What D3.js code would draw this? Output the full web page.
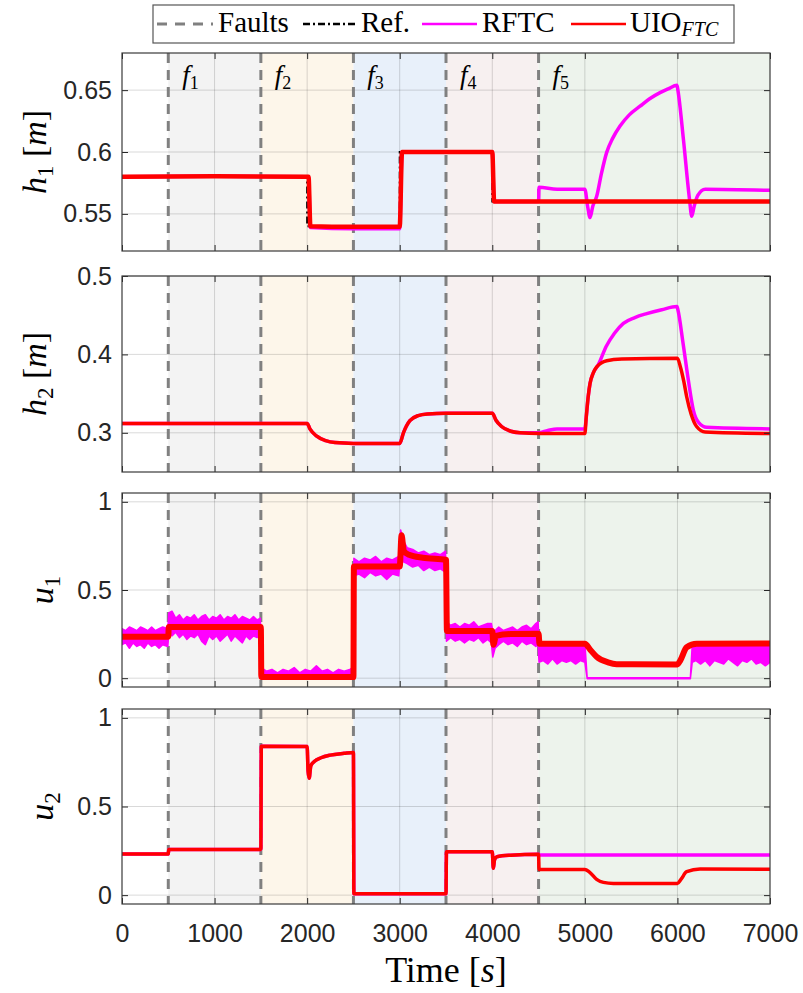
<!DOCTYPE html>
<html>
<head>
<meta charset="utf-8">
<script src="https://cdn.jsdelivr.net/npm/d3@7"></script>
<style>
  body { margin: 0; background: #fff; }
  text { font-family: "Liberation Sans", Arial, sans-serif; }
  .serif { font-family: "Liberation Serif", "Times New Roman", serif; }
</style>
</head>
<body>
<svg width="803" height="993"></svg>
<script>
// fault instants and shaded fault zones
const faultTimes = [500, 1500, 2500, 3500, 4500];
const faultNames = ["1", "2", "3", "4", "5"];
const zoneStart = [500, 1500, 2500, 3500, 4500];
const zoneEnd = [1500, 2500, 3500, 4500, 7000];
const xTicks = [0, 1000, 2000, 3000, 4000, 5000, 6000, 7000];

// h1 [m]
const h1Ref = [[0,0.58],[2000,0.58],[2000,0.54],[3000,0.54],[3000,0.60],[4000,0.60],[4000,0.56],[7000,0.56]];
const h1Uio = [[0,0.58],[1000,0.5805],[2015,0.58],[2035,0.54],[2500,0.5395],[3000,0.5395],[3025,0.60],[4000,0.60],[4020,0.56],[7000,0.56]];
const h1Rftc = [[0,0.58],[1000,0.5805],[2015,0.58],[2035,0.539],[2500,0.538],[3000,0.538],[3025,0.60],[4000,0.60],[4020,0.56],[4500,0.56],
  [4505,0.5715],[4700,0.570],[5000,0.570],[5030,0.556],[5056,0.547],[5085,0.556],[5127,0.564],[5180,0.583],[5235,0.5995],[5300,0.611],
  [5380,0.621],[5480,0.630],[5596,0.637],[5700,0.643],[5812,0.648],[5900,0.651],[5995,0.654],[6005,0.650],[6065,0.61],[6130,0.562],
  [6155,0.548],[6180,0.556],[6220,0.565],[6300,0.570],[7000,0.569]];

// h2 [m]
const h2Uio = [[0,0.312],[2000,0.312],[2030,0.305],[2100,0.296],[2200,0.290],[2300,0.2875],[2500,0.2865],[3000,0.2865],[3040,0.300],
  [3110,0.3155],[3200,0.322],[3300,0.324],[3500,0.325],[4000,0.325],[4040,0.316],[4100,0.308],[4200,0.302],[4300,0.300],[4500,0.299],
  [5000,0.299],[5015,0.320],[5036,0.346],[5056,0.363],[5090,0.376],[5128,0.384],[5236,0.392],[5400,0.394],[6000,0.395],[6030,0.385],
  [6070,0.365],[6100,0.346],[6150,0.323],[6207,0.308],[6300,0.301],[7000,0.299]];
const h2Rftc = [[0,0.312],[2000,0.312],[2030,0.305],[2100,0.296],[2200,0.290],[2300,0.2875],[2500,0.2865],[3000,0.2865],[3040,0.300],
  [3110,0.3155],[3200,0.322],[3300,0.324],[3500,0.325],[4000,0.325],[4040,0.316],[4100,0.308],[4200,0.302],[4300,0.300],[4500,0.300],
  [4600,0.303],[4700,0.305],[5000,0.305],[5015,0.320],[5036,0.346],[5056,0.363],[5090,0.376],[5146,0.387],[5230,0.410],[5320,0.427],
  [5416,0.4396],[5540,0.447],[5668,0.452],[5830,0.457],[5995,0.461],[6005,0.457],[6060,0.415],[6118,0.367],[6172,0.329],[6230,0.313],
  [6316,0.307],[7000,0.305]];

// u1 : UIO centre line and RFTC noise envelope [t, low, high]
const u1Uio = [[0,0.235],[500,0.235],[505,0.29],[1500,0.29],[1505,0.006],[2500,0.006],[2505,0.633],[3000,0.633],[3020,0.81],[3045,0.72],
  [3100,0.70],[3250,0.683],[3500,0.672],[3510,0.268],[4000,0.268],[4012,0.19],[4040,0.24],[4200,0.25],[4500,0.252],[4510,0.195],
  [5000,0.195],[5060,0.16],[5127,0.122],[5250,0.09],[5343,0.079],[6000,0.078],[6030,0.10],[6100,0.175],[6208,0.195],[7000,0.197]];
const u1RftcBand = [
  [0,.19,.28],[40,.2,.27],[80,.17,.29],[120,.2,.28],[160,.18,.27],[200,.19,.29],[240,.17,.28],[280,.2,.27],[320,.18,.29],[360,.19,.27],
  [400,.17,.28],[440,.19,.29],[495,.18,.28],
  [505,.25,.37],[540,.24,.38],[580,.26,.34],[620,.23,.36],[660,.25,.33],[700,.22,.35],[740,.24,.34],[780,.23,.36],[820,.25,.33],
  [860,.21,.35],[900,.19,.36],[940,.24,.33],[980,.22,.35],[1020,.24,.34],[1060,.21,.36],[1100,.23,.33],[1140,.25,.35],[1180,.21,.34],
  [1220,.24,.36],[1260,.22,.33],[1300,.2,.35],[1340,.24,.34],[1380,.22,.33],[1420,.24,.35],[1460,.23,.33],[1495,.24,.34],
  [1505,0,.06],[1560,0,.04],[1620,0,.05],[1680,0,.03],[1740,0,.05],[1800,0,.04],[1860,0,.06],[1920,0,.03],[1980,0,.05],[2040,0,.04],
  [2100,0,.07],[2160,0,.04],[2220,0,.05],[2280,0,.03],[2340,0,.05],[2400,0,.04],[2460,0,.05],[2495,0,.06],
  [2505,.58,.68],[2560,.59,.66],[2620,.57,.68],[2680,.6,.67],[2740,.58,.69],[2800,.59,.66],[2860,.56,.68],[2920,.59,.67],[2990,.58,.69],
  [3010,.72,.84],[3040,.66,.78],[3080,.65,.74],[3140,.63,.73],[3200,.64,.71],[3260,.61,.72],[3320,.63,.7],[3380,.61,.71],[3440,.62,.7],
  [3495,.6,.72],
  [3505,.21,.32],[3550,.23,.3],[3600,.21,.31],[3650,.22,.29],[3700,.2,.31],[3750,.22,.3],[3800,.21,.32],[3850,.23,.29],[3900,.2,.3],
  [3950,.22,.31],[3990,.2,.31],
  [4005,.12,.27],[4030,.17,.27],[4070,.19,.29],[4120,.21,.27],[4170,.19,.28],[4220,.2,.29],[4270,.18,.27],[4320,.21,.29],[4370,.19,.3],
  [4420,.2,.28],[4470,.18,.31],[4495,.19,.32],
  [4505,.09,.2],[4550,.1,.19],[4600,.08,.2],[4650,.11,.19],[4700,.08,.2],[4750,.1,.18],[4800,.09,.2],[4850,.1,.19],[4900,.08,.2],
  [4950,.1,.19],[5000,.09,.2],
  [5025,-.003,.003],[6140,-.003,.003],
  [6160,.09,.19],[6200,.1,.2],[6250,.08,.18],[6300,.1,.2],[6350,.07,.19],[6400,.1,.2],[6450,.09,.18],[6500,.08,.2],[6550,.11,.19],
  [6600,.09,.2],[6650,.07,.18],[6700,.1,.2],[6750,.09,.19],[6800,.11,.2],[6850,.08,.19],[6900,.09,.2],[6950,.07,.18],[7000,.09,.19]];

// u2
const u2Uio = [[0,0.232],[500,0.232],[505,0.258],[1500,0.258],[1505,0.84],[2000,0.838],[2010,0.70],[2022,0.66],[2040,0.73],[2080,0.755],
  [2150,0.775],[2250,0.79],[2400,0.80],[2500,0.805],[2505,0.008],[3500,0.008],[3505,0.245],[4000,0.245],[4011,0.151],[4025,0.20],
  [4050,0.217],[4200,0.225],[4500,0.23],[4505,0.145],[5000,0.145],[5050,0.13],[5127,0.089],[5200,0.072],[5308,0.066],[6000,0.066],
  [6040,0.09],[6100,0.132],[6244,0.147],[7000,0.146]];
const u2Rftc = [[0,0.232],[500,0.232],[505,0.258],[1500,0.258],[1505,0.84],[2000,0.838],[2010,0.70],[2022,0.66],[2040,0.73],[2080,0.755],
  [2150,0.775],[2250,0.79],[2400,0.80],[2500,0.805],[2505,0.008],[3500,0.008],[3505,0.245],[4000,0.245],[4011,0.151],[4025,0.20],
  [4050,0.217],[4200,0.225],[4500,0.23],[4505,0.226],[7000,0.226]];

// layout and styles
const zoneColors = ["#f3f3f3", "#fdf6ea", "#e8f0fa", "#f7f0f0", "#edf3ec"];
const left = 122, right = 770;
const panels = [
  { top: 53,  bottom: 251, domain: [0.52, 0.68], ticks: [0.55, 0.6, 0.65], name: "h", idx: "1", unit: true,
    ref: h1Ref, rftc: h1Rftc, uio: h1Uio, uioW: 4.5 },
  { top: 276, bottom: 472, domain: [0.25, 0.5], ticks: [0.3, 0.4, 0.5], name: "h", idx: "2", unit: true,
    rftc: h2Rftc, uio: h2Uio, uioW: 3.5 },
  { top: 493, bottom: 687, domain: [-0.05, 1.05], ticks: [0, 0.5, 1], name: "u", idx: "1", unit: false,
    band: u1RftcBand, uio: u1Uio, uioW: 6 },
  { top: 709, bottom: 904, domain: [-0.05, 1.05], ticks: [0, 0.5, 1], name: "u", idx: "2", unit: false,
    rftc: u2Rftc, uio: u2Uio, uioW: 3.5 }
];

const svg = d3.select("svg");

const x = d3.scaleLinear().domain([0, 7000]).range([left, right]);

panels.forEach((p, i) => {
  const y = d3.scaleLinear().domain(p.domain).range([p.bottom, p.top]);
  const g = svg.append("g");

  svg.append("clipPath").attr("id", "clip" + i)
     .append("rect").attr("x", left).attr("y", p.top)
     .attr("width", right - left).attr("height", p.bottom - p.top);

  // fault zones
  g.selectAll(".zone")
   .data(zoneStart)
   .enter()
   .append("rect")
   .attr("x", d => x(d))
   .attr("y", p.top)
   .attr("width", (d, k) => x(zoneEnd[k]) - x(d))
   .attr("height", p.bottom - p.top)
   .attr("fill", (d, k) => zoneColors[k]);

  // grid
  g.selectAll(".gx")
   .data(xTicks.slice(1, -1))
   .enter()
   .append("line")
   .attr("x1", d => x(d)).attr("x2", d => x(d))
   .attr("y1", p.top).attr("y2", p.bottom)
   .attr("stroke", "#000").attr("stroke-opacity", 0.15);

  g.selectAll(".gy")
   .data(p.ticks)
   .enter()
   .append("line")
   .attr("x1", left).attr("x2", right)
   .attr("y1", d => y(d)).attr("y2", d => y(d))
   .attr("stroke", "#000").attr("stroke-opacity", 0.15);

  // fault lines
  g.selectAll(".fault")
   .data(faultTimes)
   .enter()
   .append("line")
   .attr("x1", d => x(d)).attr("x2", d => x(d))
   .attr("y1", p.top).attr("y2", p.bottom)
   .attr("stroke", "#808080").attr("stroke-width", 3)
   .attr("stroke-dasharray", "10,7");

  const line = d3.line().x(d => x(d[0])).y(d => y(d[1])).curve(d3.curveMonotoneX);
  const plot = g.append("g").attr("clip-path", `url(#clip${i})`);

  if (p.ref) {
    plot.append("path").attr("d", d3.line().x(d => x(d[0])).y(d => y(d[1]))(p.ref))
        .attr("fill", "none").attr("stroke", "#000")
        .attr("stroke-width", 2).attr("stroke-dasharray", "7,3,2,3");
  }
  if (p.band) {
    const area = d3.area().x(d => x(d[0])).y0(d => y(d[1])).y1(d => y(d[2]));
    plot.append("path").attr("d", area(p.band))
        .attr("fill", "#ff00ff").attr("stroke", "#ff00ff")
        .attr("stroke-width", 1.5).attr("stroke-linejoin", "round");
  }
  if (p.rftc) {
    plot.append("path").attr("d", line(p.rftc))
        .attr("fill", "none").attr("stroke", "#ff00ff")
        .attr("stroke-width", 3.5).attr("stroke-linejoin", "round");
  }
  plot.append("path").attr("d", line(p.uio))
      .attr("fill", "none").attr("stroke", "#ff0000")
      .attr("stroke-width", p.uioW).attr("stroke-linejoin", "round");

  // axes
  const yl = g.append("g").attr("transform", `translate(${left},0)`)
              .call(d3.axisLeft(y).tickValues(p.ticks).tickSize(-6).tickPadding(10).tickFormat(d => String(d)));
  const yr = g.append("g").attr("transform", `translate(${right},0)`)
              .call(d3.axisRight(y).tickValues(p.ticks).tickSize(-6).tickFormat(""));
  const xb = g.append("g").attr("transform", `translate(0,${p.bottom})`)
              .call(d3.axisBottom(x).tickValues(xTicks).tickSize(-6).tickPadding(20)
                      .tickFormat(i === 3 ? d => String(d) : ""));
  const xt = g.append("g").attr("transform", `translate(0,${p.top})`)
              .call(d3.axisTop(x).tickValues(xTicks).tickSize(-6).tickFormat(""));

  [yl, yr, xb, xt].forEach(a => {
    a.select(".domain").remove();
    a.selectAll("line").attr("stroke", "#262626");
    a.selectAll("text").attr("font-size", 25).attr("fill", "#262626")
     .attr("font-family", "'Liberation Sans', Arial, sans-serif");
  });

  g.append("rect")
   .attr("x", left).attr("y", p.top)
   .attr("width", right - left).attr("height", p.bottom - p.top)
   .attr("fill", "none").attr("stroke", "#3a3a3a").attr("stroke-width", 1.2);

  // y label
  const lx = p.unit ? 46 : 53;
  const cy = (p.top + p.bottom) / 2;
  const lab = g.append("text").attr("class", "serif")
               .attr("transform", `translate(${lx},${cy}) rotate(-90)`)
               .attr("text-anchor", "middle").attr("font-size", 34).attr("fill", "#000");
  lab.append("tspan").attr("font-style", "italic").text(p.name);
  lab.append("tspan").attr("font-size", 23).attr("dy", 7).text(p.idx);
  if (p.unit) {
    lab.append("tspan").attr("dy", -7).text(" [");
    lab.append("tspan").attr("font-style", "italic").text("m");
    lab.append("tspan").text("]");
  }

  // fault names in first panel
  if (i === 0) {
    faultTimes.forEach((t, k) => {
      const ft = g.append("text").attr("class", "serif")
                  .attr("x", x(t + 150)).attr("y", p.top + 31)
                  .attr("font-size", 27).attr("fill", "#000");
      ft.append("tspan").attr("font-style", "italic").text("f");
      ft.append("tspan").attr("font-size", 18).attr("dy", 5).text(faultNames[k]);
    });
  }
});

// x label
const xl = svg.append("text").attr("class", "serif")
              .attr("x", (left + right) / 2).attr("y", 982)
              .attr("text-anchor", "middle").attr("font-size", 36).attr("fill", "#000");
xl.append("tspan").text("Time [");
xl.append("tspan").attr("font-style", "italic").text("s");
xl.append("tspan").text("]");

// legend
const lg = svg.append("g");
lg.append("rect").attr("x", 153).attr("y", 5).attr("width", 581).attr("height", 38)
  .attr("fill", "#fff").attr("stroke", "#555").attr("stroke-width", 1.2);

const legendItems = [
  { x1: 157, x2: 213, tx: 218, color: "#808080", dash: "10,8", w: 3, label: "Faults" },
  { x1: 303, x2: 357, tx: 361, color: "#000", dash: "7,3,2,3", w: 2.5, label: "Ref." },
  { x1: 422, x2: 477, tx: 482, color: "#ff00ff", dash: null, w: 2.5, label: "RFTC" },
  { x1: 571, x2: 626, tx: 630, color: "#ff0000", dash: null, w: 2.5, label: "UIO" }
];
legendItems.forEach(d => {
  lg.append("line").attr("x1", d.x1).attr("x2", d.x2).attr("y1", 24).attr("y2", 24)
    .attr("stroke", d.color).attr("stroke-width", d.w)
    .attr("stroke-dasharray", d.dash);
  const t = lg.append("text").attr("class", "serif").attr("x", d.tx).attr("y", 32)
              .attr("font-size", 29).attr("fill", "#000").text(d.label);
  if (d.label === "UIO") {
    t.append("tspan").attr("font-style", "italic").attr("font-size", 20).attr("dy", 4).text("FTC");
  }
});
</script>
</body>
</html>
